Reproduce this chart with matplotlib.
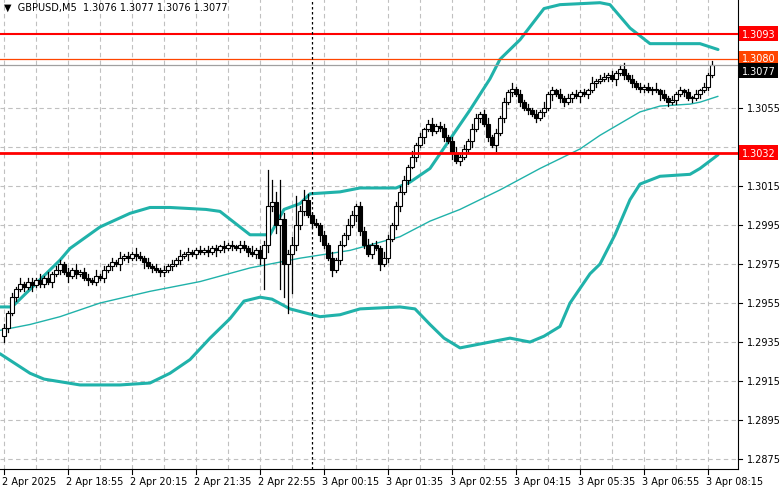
import matplotlib
matplotlib.use("Agg")
import matplotlib.pyplot as plt
from matplotlib.patches import Rectangle

closes = [
 1.2942,1.2950,1.2958,1.2962,1.2965,1.2963,1.2966,1.2964,1.2967,1.2965,
 1.2968,1.2966,1.2970,1.2972,1.2975,1.2971,1.2969,1.2972,1.2970,1.2971,
 1.2968,1.2967,1.2966,1.2969,1.2968,1.2972,1.2974,1.2976,1.2975,1.2978,
 1.2979,1.2978,1.2980,1.2979,1.2978,1.2976,1.2974,1.2973,1.2972,1.2971,
 1.2972,1.2974,1.2975,1.2977,1.2979,1.2980,1.2981,1.2980,1.2982,1.2981,
 1.2982,1.2981,1.2983,1.2982,1.2984,1.2983,1.2985,1.2984,1.2983,1.2985,
 1.2983,1.2981,1.2980,1.2982,1.2978,1.2985,1.3005,1.3007,1.2995,1.2998,
 1.2975,1.2980,1.2985,1.2995,1.3002,1.3008,1.3000,1.2996,1.2995,1.2990,
 1.2985,1.2978,1.2972,1.2977,1.2985,1.2990,1.2995,1.3000,1.3005,1.2992,
 1.2985,1.2980,1.2985,1.2983,1.2975,1.2978,1.2988,1.2995,1.3005,1.3012,
 1.3018,1.3025,1.3030,1.3036,1.3040,1.3044,1.3047,1.3043,1.3046,1.3045,
 1.3040,1.3038,1.3032,1.3028,1.3030,1.3034,1.3038,1.3044,1.3050,1.3052,
 1.3047,1.3040,1.3036,1.3042,1.3050,1.3058,1.3063,1.3065,1.3062,1.3058,
 1.3055,1.3054,1.3052,1.3050,1.3053,1.3055,1.3062,1.3064,1.3062,1.3060,
 1.3058,1.3060,1.3062,1.3061,1.3063,1.3062,1.3064,1.3068,1.3069,1.3070,
 1.3071,1.3072,1.3070,1.3073,1.3075,1.3072,1.3070,1.3068,1.3066,1.3065,
 1.3066,1.3064,1.3065,1.3064,1.3062,1.3060,1.3058,1.3059,1.3062,1.3064,
 1.3063,1.3060,1.3060,1.3062,1.3064,1.3066,1.3072,1.3077]
first_open = 1.2938
wick_up = ("2121312213" "1312212131" "2213121213" "1213212121" "2121312112"
           "1212131212" "2131223232" "3242323121" "2131213212" "2312132123"
           "2131212312" "2123121321" "2312121312" "1212131213" "1212121312"
           "2121231212" "1213121212" "12121212")
wick_dn = ("3212121312" "2131213121" "1312121213" "1212131212" "2121213121"
           "1213121212" "1212324343" "2323221213" "2131212132" "2121312123"
           "1212131212" "2131212312" "1213121212" "1212121312" "2121312121"
           "1213121212" "2121312121" "21212121")
high_override = {66: 1.3023, 67: 1.3018, 68: 1.3012, 69: 1.3018, 73: 1.3010, 75: 1.3013}
low_override = {65: 1.2962, 69: 1.2962, 70: 1.2958, 71: 1.2950, 72: 1.2960}

upper_x = [-1,2,6.5,14,16.5,24,31.5,36.5,41.5,50.5,54,59,61.5,66.5,70,74,76.5,84,89,98,101.5,106.5,111.5,116.5,121.5,124,129,135,139,149,151.5,156.5,161.5,169,174,178.5]
upper_y = [1.2953,1.2953,1.2962,1.2977,1.2983,1.2994,1.3001,1.3004,1.3004,1.3003,1.3002,1.2994,1.2990,1.2990,1.3003,1.3006,1.3011,1.3012,1.3014,1.3014,1.3017,1.3024,1.3039,1.3054,1.3070,1.3080,1.3090,1.3106,1.3108,1.3109,1.3108,1.3096,1.3088,1.3088,1.3088,1.3085]
lower_x = [-1,2.75,6.5,10,19,29,36.5,41.5,46.5,51.5,56.5,60,64,67,71.5,79,84,89,99,102.75,106.5,110,114,121.5,126.5,131.5,135,139,141.5,146.5,149,152.75,156.5,159,164,171.5,174,178.5]
lower_y = [1.2929,1.2924,1.2919,1.2916,1.2913,1.2913,1.2914,1.2919,1.2926,1.2937,1.2947,1.2956,1.2958,1.2957,1.2952,1.2948,1.2949,1.2952,1.2953,1.2952,1.2944,1.2937,1.2932,1.2935,1.2937,1.2935,1.2938,1.2943,1.2955,1.2970,1.2975,1.2990,1.3008,1.3016,1.3020,1.3021,1.3024,1.3031]
ma_x = [-1,6.5,14,24,36.5,49,61.5,74,86.5,99,106.5,114,124,134,144,149,154,159,164,171.5,174,178.5]
ma_y = [1.2941,1.2944,1.2948,1.2955,1.2961,1.2966,1.2973,1.2978,1.2982,1.2989,1.2997,1.3003,1.3013,1.3024,1.3034,1.3041,1.3047,1.3053,1.3056,1.3057,1.3058,1.3061]

price_ticks = [1.2875,1.2895,1.2915,1.2935,1.2955,1.2975,1.2995,1.3015,1.3035,1.3055]
time_labels = ["2 Apr 2025","2 Apr 18:55","2 Apr 20:15","2 Apr 21:35","2 Apr 22:55","3 Apr 00:15",
               "3 Apr 01:35","3 Apr 02:55","3 Apr 04:15","3 Apr 05:35","3 Apr 06:55","3 Apr 08:15"]
levels = [(1.3093, "#ff0000", 1.5, "1.3093"), (1.3032, "#ff0000", 2.0, "1.3032")]

fig = plt.figure(figsize=(7.81, 4.89), dpi=100)
ax = fig.add_axes([0.0, 1 - 470/489, 738/781, 470/489])
ymin, ymax = 1.28699, 1.31109
ax.set_ylim(ymin, ymax)
ax.set_xlim(-1, 183.5)

for t in price_ticks:
    ax.axhline(t, color="#c0c0c0", lw=0.8, ls=(0, (4, 3)), zorder=0)
for i in range(0, 184, 8):
    ax.axvline(i, color="#c0c0c0", lw=0.8, ls=(0, (4, 3)), zorder=0)

kw = dict(color="#20b2aa", solid_joinstyle="round", solid_capstyle="round", zorder=2)
ax.plot(upper_x, upper_y, lw=2.2, **kw)
ax.plot(lower_x, lower_y, lw=2.2, **kw)
ax.plot(ma_x, ma_y, lw=1.0, **kw)

prev = first_open
for i, c in enumerate(closes):
    o = prev
    hi = max(o, c) + int(wick_up[i]) * 0.0001
    lo = min(o, c) - int(wick_dn[i]) * 0.0001
    hi = high_override.get(i, hi)
    lo = low_override.get(i, lo)
    ax.plot([i, i], [lo, hi], color="black", lw=0.9, zorder=3)
    bottom = min(o, c)
    h = max(abs(c - o), 0.00004)
    ax.add_patch(Rectangle((i - 0.4, bottom), 0.8, h,
                           facecolor="white" if c >= o else "black",
                           edgecolor="black", lw=0.8, zorder=4))
    prev = c

for p, col, lw, lab in levels:
    ax.axhline(p, color=col, lw=lw, zorder=5)
ax.axhline(1.3080, color="#ff4500", lw=0.9, zorder=5)
ax.axhline(1.3077, color="#a0a0a0", lw=0.9, zorder=5)
ax.axvline(77, color="black", lw=0.9, ls=(0, (2, 2)), zorder=5)

ax.set_xticks([]); ax.set_yticks([])
for s in ["top", "left"]:
    ax.spines[s].set_visible(False)

def yfrac(p):
    return (p - ymin) / (ymax - ymin)

for t in price_ticks:
    if abs(t - 1.3035) < 1e-6:
        continue
    ax.text(1.012, yfrac(t), f"{t:.4f}", transform=ax.transAxes, fontsize=7, va="center", ha="left")
    ax.plot([1.0, 1.006], [yfrac(t)] * 2, transform=ax.transAxes, color="black", lw=0.8, clip_on=False)
for p, col, lab, dy in [(1.3093, "#ff0000", "1.3093", 0), (1.3080, "#ff4500", "1.3080", 0.002),
                        (1.3077, "black", "1.3077", -0.012), (1.3032, "#ff0000", "1.3032", 0)]:
    ax.text(1.005, yfrac(p) + dy, lab, transform=ax.transAxes, fontsize=7, va="center", ha="left",
            color="white", bbox=dict(boxstyle="square,pad=0.25", fc=col, ec="none"))

for k, lab in enumerate(time_labels):
    i = k * 16
    xf = (i + 1) / 184.5
    ax.plot([xf, xf], [0, -0.01], transform=ax.transAxes, color="black", lw=0.8, clip_on=False)
    ax.text(xf - 0.003, -0.015, lab, transform=ax.transAxes, fontsize=7, va="top", ha="left")

ax.text(0.005, 0.995, "\u25bc  GBPUSD,M5  1.3076 1.3077 1.3076 1.3077", transform=ax.transAxes,
        fontsize=7, va="top", ha="left")

fig.savefig("out.png", dpi=100)
